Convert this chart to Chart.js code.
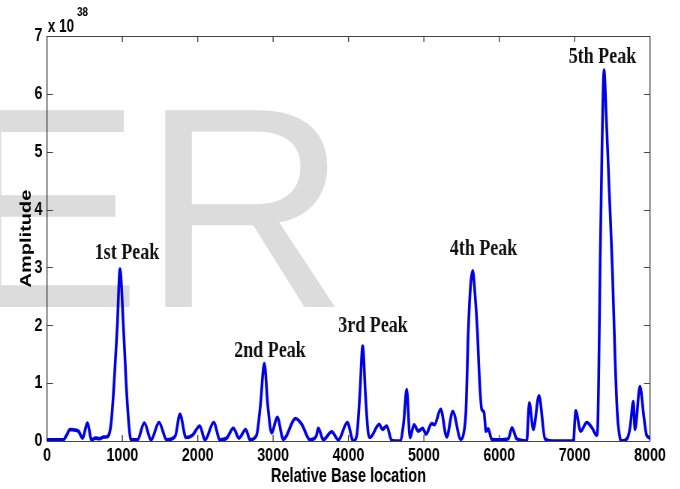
<!DOCTYPE html>
<html>
<head>
<meta charset="utf-8">
<script src="https://cdn.jsdelivr.net/npm/chart.js@4.4.1/dist/chart.umd.min.js"></script>
<style>
  html, body { margin: 0; padding: 0; background: #fff; overflow: hidden; }
  /* the original figure is squashed horizontally, so draw wide and squeeze */
  #wrap { width: 907px; height: 489px; transform: scaleX(0.75); transform-origin: 0 0; }
</style>
</head>
<body>
<div id="wrap"><canvas id="spectrum"></canvas></div>
<script>
const SQUEEZE = 0.75;
const LINE_COLOR = "#0000e6";
const FRAME_COLOR = "#444444";

// relative base location (x) and amplitude in units of 1e38 (y)
const positions = [
  0, 216, 260, 305, 360, 416, 473, 535, 592, 640, 700, 750, 792,
  850, 890, 933, 968, 1013, 1050, 1085, 1115,
  1200, 1291, 1380, 1486, 1588, 1700, 1764, 1844, 1930, 2026, 2096,
  2211, 2295, 2384, 2472, 2547, 2636, 2693,
  2780, 2830, 2883, 2930, 2980,
  3055, 3135, 3299, 3379, 3489, 3570, 3600, 3666, 3777, 3865, 3984, 4064,
  4110, 4150, 4188, 4225, 4260, 4285,
  4408, 4450, 4507, 4573, 4683, 4730, 4772, 4816, 4869, 4926, 4984, 5028,
  5103, 5140, 5223, 5303, 5383, 5489,
  5530, 5558, 5590, 5620, 5648, 5675, 5709, 5740, 5767, 5797, 5824, 5854, 5899,
  6000, 6120, 6169, 6231, 6364, 6399, 6452, 6527, 6607, 6700, 6983,
  7014, 7080, 7160, 7230, 7292,
  7305, 7320, 7340, 7362, 7390, 7420, 7460, 7500, 7535, 7565, 7600, 7624,
  7700, 7735, 7779, 7800, 7867, 7920, 7955, 8000,
];
const amplitudes = [
  0.02, 0.02, 0.1, 0.2, 0.19, 0.17, 0.05, 0.31, 0.02, 0.05, 0.04, 0.07, 0.07,
  0.3, 1.0, 2.0, 2.97, 2.0, 1.0, 0.3, 0.02,
  0.02, 0.31, 0.02, 0.32, 0.02, 0.08, 0.46, 0.06, 0.1, 0.26, 0.02,
  0.32, 0.02, 0.05, 0.22, 0.05, 0.2, 0.02,
  0.1, 0.6, 1.34, 0.6, 0.14,
  0.41, 0.03, 0.39, 0.29, 0.02, 0.08, 0.22, 0.02, 0.16, 0.02, 0.32, 0.0,
  0.1, 0.8, 1.64, 0.8, 0.15, 0.06,
  0.29, 0.2, 0.26, 0.01, 0.0, 0.3, 0.89, 0.06, 0.28, 0.17, 0.22, 0.12,
  0.3, 0.28, 0.55, 0.07, 0.51, 0.03,
  0.15, 0.52, 1.92, 2.7, 2.94, 2.6, 1.92, 1.0, 0.55, 0.5, 0.17, 0.21, 0.03,
  0.02, 0.04, 0.23, 0.04, 0.0, 0.66, 0.2, 0.78, 0.04, 0.0, 0.0,
  0.52, 0.17, 0.32, 0.23, 0.1,
  0.2, 1.2, 3.2, 5.0, 6.41, 5.6, 4.3, 3.0, 1.5, 0.5, 0.06, 0.0,
  0.05, 0.23, 0.68, 0.2, 0.94, 0.4, 0.1, 0.05,
];

const xTickValues = [0, 1000, 2000, 3000, 4000, 5000, 6000, 7000, 8000];
const yTickValues = [0, 1, 2, 3, 4, 5, 6, 7];

const peakNames = ["1st Peak", "2nd Peak", "3rd Peak", "4th Peak", "5th Peak"];
const peakLabelX = [1061, 2958, 4325, 5791, 7369];
const peakLabelY = [3.15, 1.45, 1.88, 3.21, 6.53];

const points = positions.map((x, i) => ({ x: x, y: amplitudes[i] }));

const tickFont = { family: "'Liberation Sans', Arial, sans-serif", size: 19, weight: "bold" };

const decorations = {
  id: "decorations",
  beforeDraw(chart) {
    // faint "ER" watermark sitting behind the plot (unsqueezed)
    const ctx = chart.ctx;
    ctx.save();
    ctx.scale(1 / SQUEEZE, 1);
    ctx.font = "286px 'Liberation Sans', Arial, sans-serif";
    ctx.fillStyle = "#dcdcdc";
    ctx.textBaseline = "alphabetic";
    ctx.textAlign = "left";
    ctx.fillText("ER", -49, 307);
    ctx.restore();
  },
  beforeDatasetsDraw(chart) {
    // matlab style box with inward ticks on all four sides
    const { ctx, chartArea: a, scales } = chart;
    ctx.save();
    ctx.strokeStyle = FRAME_COLOR;
    ctx.lineWidth = 1;
    ctx.beginPath();
    ctx.moveTo(a.left, a.top + 0.5);
    ctx.lineTo(a.right, a.top + 0.5);
    ctx.moveTo(a.left, a.bottom + 0.5);
    ctx.lineTo(a.right, a.bottom + 0.5);
    ctx.stroke();
    ctx.lineWidth = 1.4;
    ctx.beginPath();
    ctx.moveTo(a.left, a.top);
    ctx.lineTo(a.left, a.bottom);
    ctx.moveTo(a.right, a.top);
    ctx.lineTo(a.right, a.bottom);
    xTickValues.forEach((v) => {
      const px = scales.x.getPixelForValue(v);
      ctx.moveTo(px, a.bottom);
      ctx.lineTo(px, a.bottom - 6);
      ctx.moveTo(px, a.top);
      ctx.lineTo(px, a.top + 6);
    });
    ctx.stroke();
    ctx.lineWidth = 1;
    ctx.beginPath();
    yTickValues.forEach((v) => {
      const py = Math.round(scales.y.getPixelForValue(v)) + 0.5;
      ctx.moveTo(a.left, py);
      ctx.lineTo(a.left + 8, py);
      ctx.moveTo(a.right, py);
      ctx.lineTo(a.right - 8, py);
    });
    ctx.stroke();
    ctx.restore();
  },
  afterDatasetsDraw(chart) {
    const { ctx, chartArea: a, scales } = chart;
    ctx.save();
    ctx.fillStyle = "#111111";
    ctx.textAlign = "center";
    ctx.textBaseline = "alphabetic";
    ctx.font = "bold 24px 'Liberation Serif', 'Times New Roman', serif";
    peakNames.forEach((name, i) => {
      ctx.fillText(name, scales.x.getPixelForValue(peakLabelX[i]), scales.y.getPixelForValue(peakLabelY[i]));
    });
    // exponent above the y axis
    ctx.textAlign = "left";
    ctx.fillStyle = "#000000";
    ctx.font = "bold 18px 'Liberation Sans', Arial, sans-serif";
    ctx.fillText("x 10", a.left + 1, 32);
    ctx.font = "bold 13px 'Liberation Sans', Arial, sans-serif";
    ctx.fillText("38", a.left + 40, 16);
    ctx.restore();
  },
};

new Chart(document.getElementById("spectrum"), {
  type: "line",
  data: {
    datasets: [
      {
        data: points,
        borderColor: LINE_COLOR,
        borderWidth: 3.6,
        pointRadius: 0,
        fill: false,
        cubicInterpolationMode: "monotone",
        borderJoinStyle: "round",
        borderCapStyle: "round",
      },
    ],
  },
  options: {
    responsive: true,
    maintainAspectRatio: false,
    animation: false,
    events: [],
    layout: { padding: { top: 36, right: 40.33, left: 0, bottom: 0 } },
    scales: {
      x: {
        type: "linear",
        min: 0,
        max: 8000,
        grid: { display: false, drawTicks: false },
        border: { display: false },
        afterBuildTicks: (scale) => {
          scale.ticks = xTickValues.map((v) => ({ value: v }));
        },
        ticks: {
          color: "#000",
          font: tickFont,
          padding: 3,
          maxRotation: 0,
          autoSkip: false,
          callback: (value) => String(value),
        },
        title: {
          display: true,
          text: "Relative Base location",
          color: "#000",
          font: { family: "'Liberation Sans', Arial, sans-serif", size: 19.5, weight: "bold" },
          padding: { top: 0, bottom: 1 },
        },
        afterFit: (scale) => {
          scale.height = 48;
          scale.paddingLeft = 0;
          scale.paddingRight = 0;
        },
      },
      y: {
        type: "linear",
        min: 0,
        max: 7,
        grid: { display: false, drawTicks: false },
        border: { display: false },
        afterBuildTicks: (scale) => {
          scale.ticks = yTickValues.map((v) => ({ value: v }));
        },
        ticks: { color: "#000", font: tickFont, padding: 6, callback: (value) => String(value) },
        title: {
          display: true,
          text: "Amplitude",
          color: "#000",
          font: { family: "'Liberation Sans', Arial, sans-serif", size: 20, weight: "bold" },
          padding: { top: 23, bottom: 0 },
        },
        afterFit: (scale) => {
          scale.width = 62.67;
          scale.paddingTop = 0;
          scale.paddingBottom = 0;
        },
      },
    },
    plugins: {
      legend: { display: false },
      tooltip: { enabled: false },
    },
  },
  plugins: [decorations],
});
</script>
</body>
</html>
